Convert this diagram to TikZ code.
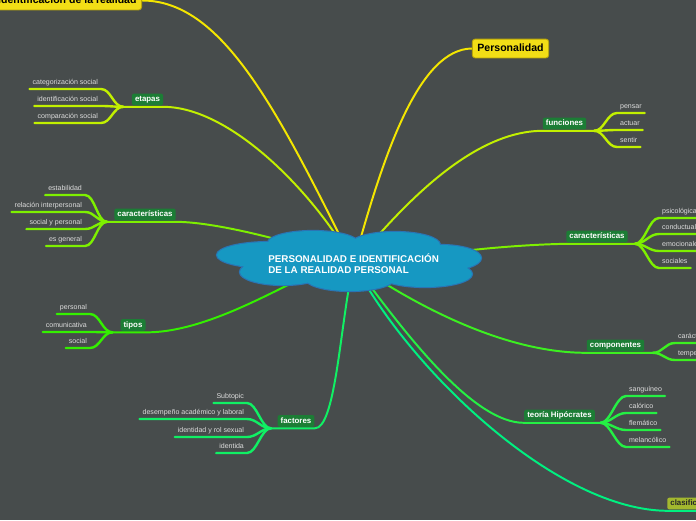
\documentclass[tikz,border=0pt]{standalone}
\usepackage{fontspec}
\setmainfont{Liberation Sans}
\definecolor{bgslate}{HTML}{474C4C}
\definecolor{cloudblue}{HTML}{1698C2}
\definecolor{cloudedge}{HTML}{2A74B4}
\definecolor{topicgreen}{HTML}{1C7D35}
\definecolor{boxyellow}{HTML}{F2DE16}
\definecolor{boxyellowedge}{HTML}{B8A50A}
\definecolor{boxolive}{HTML}{A3B82E}
\definecolor{subgray}{HTML}{DDDDDD}
\definecolor{lnyellow}{HTML}{F4E600}
\definecolor{lnlime}{HTML}{C2F000}
\definecolor{lngreen}{HTML}{7EF000}
\definecolor{lnbright}{HTML}{34F000}
\definecolor{lncomp}{HTML}{3CF020}
\definecolor{lnteo}{HTML}{24F044}
\definecolor{lnspring}{HTML}{10F064}
\definecolor{lnclas}{HTML}{00F080}
\pgfdeclarelayer{back}
\pgfdeclarelayer{lines}
\pgfsetlayers{back,lines,main}
\begin{document}
\begin{tikzpicture}[x=0.025cm,y=-0.025cm,line join=round,
	subtext/.style={font=\fontsize{5}{6}\selectfont,text=subgray,inner xsep=2pt,inner ysep=1.9pt,text height=3.8pt,text depth=1.2pt},
	topic/.style={fill=topicgreen,rounded corners=1.5pt,text=white,font=\bfseries\fontsize{5.6}{6.5}\selectfont,inner xsep=2.2pt,inner ysep=1.6pt,text height=4.1pt,text depth=1.1pt,outer ysep=1pt},
	mainbox/.style={fill=boxyellow,draw=boxyellowedge,line width=0.6pt,rounded corners=2pt,font=\bfseries\fontsize{7.5}{9}\selectfont,inner xsep=3.6pt,inner ysep=3.2pt,text height=5.4pt,text depth=1.6pt},
	br/.style={line width=1.4pt,line cap=round},
	tw/.style={line width=1.7pt,line cap=round}]
	\useasboundingbox (0,0) rectangle (696,520);
	\begin{pgfonlayer}{back}
		\fill[bgslate] (0,0) rectangle (696,520);
	\end{pgfonlayer}
	\path[fill=cloudblue,preaction={draw=cloudedge,line width=1.6pt}]
	(270,255) ellipse [x radius=53,y radius=13]
	(313,243) ellipse [x radius=45,y radius=12]
	(395,245) ellipse [x radius=45,y radius=13]
	(440,258) ellipse [x radius=41,y radius=13]
	(425,274) ellipse [x radius=47,y radius=13]
	(350,278) ellipse [x radius=45,y radius=13]
	(283,272) ellipse [x radius=43,y radius=13]
	(350,260) ellipse [x radius=100,y radius=20];
	\node[anchor=west,inner sep=0,text=white,align=left,font=\bfseries\fontsize{7}{7.8}\selectfont] (root) at (268,263.5) {PERSONALIDAD E IDENTIFICACIÓN\\DE LA REALIDAD PERSONAL};
	\node[mainbox,anchor=east] (ident) at (142,0.5) {Identificación de la realidad};
	\node[mainbox] (pers) at (510.5,48.5) {Personalidad};
	\node[topic] (etapas) at (147.5,99.5) {etapas};
	\node[subtext,anchor=south east] (categ) at (101,89) {categorización social};
	\node[subtext,anchor=south east] (idsoc) at (101,106) {identificación social};
	\node[subtext,anchor=south east] (compar) at (101,123) {comparación social};
	\node[topic] (caracI) at (145,214.5) {características};
	\node[subtext,anchor=south east] (estab) at (85,195) {estabilidad};
	\node[subtext,anchor=south east] (relac) at (85,212) {relación interpersonal};
	\node[subtext,anchor=south east] (socpers) at (85,229) {social y personal};
	\node[subtext,anchor=south east] (esgen) at (85,246) {es general};
	\node[topic] (tipos) at (133,325) {tipos};
	\node[subtext,anchor=south east] (person) at (90,314) {personal};
	\node[subtext,anchor=south east] (comun) at (90,332) {comunicativa};
	\node[subtext,anchor=south east] (social) at (90,348) {social};
	\node[topic] (factores) at (296,421) {factores};
	\node[subtext,anchor=south east] (subtop) at (247,403) {Subtopic};
	\node[subtext,anchor=south east] (desemp) at (247,419) {desempeño académico y laboral};
	\node[subtext,anchor=south east] (idrol) at (247,437) {identidad y rol sexual};
	\node[subtext,anchor=south east] (identa) at (247,453) {identida};
	\node[topic] (funciones) at (564.5,123.5) {funciones};
	\node[subtext,anchor=south west] (pensar) at (617,113) {pensar};
	\node[subtext,anchor=south west] (actuar) at (617,130) {actuar};
	\node[subtext,anchor=south west] (sentir) at (617,147) {sentir};
	\node[topic] (caracD) at (597,236.5) {características};
	\node[subtext,anchor=south west] (psico) at (659,218) {psicológicas};
	\node[subtext,anchor=south west] (conduc) at (659,234) {conductuales};
	\node[subtext,anchor=south west] (emoc) at (659,251) {emocionales};
	\node[subtext,anchor=south west] (socia) at (659,268) {sociales};
	\node[topic] (compon) at (615.5,345.5) {componentes};
	\node[subtext,anchor=south west] (caract) at (675,343) {carácter};
	\node[subtext,anchor=south west] (temper) at (675,360) {temperamento};
	\node[topic] (teoria) at (559.5,415.5) {teoría Hipócrates};
	\node[subtext,anchor=south west] (sangu) at (626,396) {sanguíneo};
	\node[subtext,anchor=south west] (calor) at (626,413) {calórico};
	\node[subtext,anchor=south west] (flema) at (626,430) {flemático};
	\node[subtext,anchor=south west] (melan) at (626,447) {melancólico};
	\node[topic,fill=boxolive,text=black!85,anchor=west] (clasif) at (667,503.5) {clasificación};
	\coordinate (fEt) at ([xshift=-6pt]etapas.south west);
	\coordinate (fCi) at ([xshift=-5pt]caracI.south west);
	\coordinate (fTi) at ([xshift=-5.5pt]tipos.south west);
	\coordinate (fFa) at ([xshift=-4.5pt]factores.south west);
	\coordinate (fFu) at ([xshift=5.5pt]funciones.south east);
	\coordinate (fCd) at ([xshift=5pt]caracD.south east);
	\coordinate (fCo) at ([xshift=6pt]compon.south east);
	\coordinate (fTe) at ([xshift=4pt]teoria.south east);
	\begin{pgfonlayer}{lines}
		\draw[br,lnyellow] (root) .. controls (274,103) and (220,0.5) .. (ident.east);
		\draw[br,lnyellow] (root) .. controls (385,150) and (420,49) .. (pers.west);
		\draw[br,lnlime] (root) .. controls (310,190) and (230,107) .. (etapas.south east) -- (fEt);
		\draw[br,lngreen] (root) .. controls (300,245) and (220,222) .. (caracI.south east) -- (fCi);
		\draw[br,lnbright] (root) .. controls (290,280) and (210,333) .. (tipos.south east) -- (fTi);
		\draw[br,lnspring] (root) .. controls (340,330) and (335,429) .. (factores.south east) -- (fFa);
		\draw[br,lnlime] (root) .. controls (400,210) and (470,131) .. (funciones.south west) -- (fFu);
		\draw[br,lngreen] (root) .. controls (430,255) and (500,245) .. (caracD.south west) -- (fCd);
		\draw[br,lncomp] (root) .. controls (410,300) and (500,353) .. (compon.south west) -- (fCo);
		\draw[br,lnteo] (root) .. controls (410,340) and (475,423) .. (teoria.south west) -- (fTe);
		\draw[br,lnclas] (root) .. controls (420,380) and (560,510) .. (clasif.south west) -- (clasif.south east);
		\draw[tw,lnlime] (fEt) .. controls +(-10,0) and +(10,0) .. (categ.south east) -- (categ.south west);
		\draw[tw,lnlime] (fEt) .. controls +(-10,0) and +(10,0) .. (idsoc.south east) -- (idsoc.south west);
		\draw[tw,lnlime] (fEt) .. controls +(-10,0) and +(10,0) .. (compar.south east) -- (compar.south west);
		\draw[tw,lngreen] (fCi) .. controls +(-10,0) and +(10,0) .. (estab.south east) -- (estab.south west);
		\draw[tw,lngreen] (fCi) .. controls +(-10,0) and +(10,0) .. (relac.south east) -- (relac.south west);
		\draw[tw,lngreen] (fCi) .. controls +(-10,0) and +(10,0) .. (socpers.south east) -- (socpers.south west);
		\draw[tw,lngreen] (fCi) .. controls +(-10,0) and +(10,0) .. (esgen.south east) -- (esgen.south west);
		\draw[tw,lnbright] (fTi) .. controls +(-10,0) and +(10,0) .. (person.south east) -- (person.south west);
		\draw[tw,lnbright] (fTi) .. controls +(-10,0) and +(10,0) .. (comun.south east) -- (comun.south west);
		\draw[tw,lnbright] (fTi) .. controls +(-10,0) and +(10,0) .. (social.south east) -- (social.south west);
		\draw[tw,lnspring] (fFa) .. controls +(-10,0) and +(10,0) .. (subtop.south east) -- (subtop.south west);
		\draw[tw,lnspring] (fFa) .. controls +(-10,0) and +(10,0) .. (desemp.south east) -- (desemp.south west);
		\draw[tw,lnspring] (fFa) .. controls +(-10,0) and +(10,0) .. (idrol.south east) -- (idrol.south west);
		\draw[tw,lnspring] (fFa) .. controls +(-10,0) and +(10,0) .. (identa.south east) -- (identa.south west);
		\draw[tw,lnlime] (fFu) .. controls +(10,0) and +(-10,0) .. (pensar.south west) -- (pensar.south east);
		\draw[tw,lnlime] (fFu) .. controls +(10,0) and +(-10,0) .. (actuar.south west) -- (actuar.south east);
		\draw[tw,lnlime] (fFu) .. controls +(10,0) and +(-10,0) .. (sentir.south west) -- (sentir.south east);
		\draw[tw,lngreen] (fCd) .. controls +(10,0) and +(-10,0) .. (psico.south west) -- (psico.south east);
		\draw[tw,lngreen] (fCd) .. controls +(10,0) and +(-10,0) .. (conduc.south west) -- (conduc.south east);
		\draw[tw,lngreen] (fCd) .. controls +(10,0) and +(-10,0) .. (emoc.south west) -- (emoc.south east);
		\draw[tw,lngreen] (fCd) .. controls +(10,0) and +(-10,0) .. (socia.south west) -- (socia.south east);
		\draw[tw,lncomp] (fCo) .. controls +(10,0) and +(-10,0) .. (caract.south west) -- (caract.south east);
		\draw[tw,lncomp] (fCo) .. controls +(10,0) and +(-10,0) .. (temper.south west) -- (temper.south east);
		\draw[tw,lnteo] (fTe) .. controls +(10,0) and +(-10,0) .. (sangu.south west) -- (sangu.south east);
		\draw[tw,lnteo] (fTe) .. controls +(10,0) and +(-10,0) .. (calor.south west) -- (calor.south east);
		\draw[tw,lnteo] (fTe) .. controls +(10,0) and +(-10,0) .. (flema.south west) -- (flema.south east);
		\draw[tw,lnteo] (fTe) .. controls +(10,0) and +(-10,0) .. (melan.south west) -- (melan.south east);
	\end{pgfonlayer}
\end{tikzpicture}
\end{document}
